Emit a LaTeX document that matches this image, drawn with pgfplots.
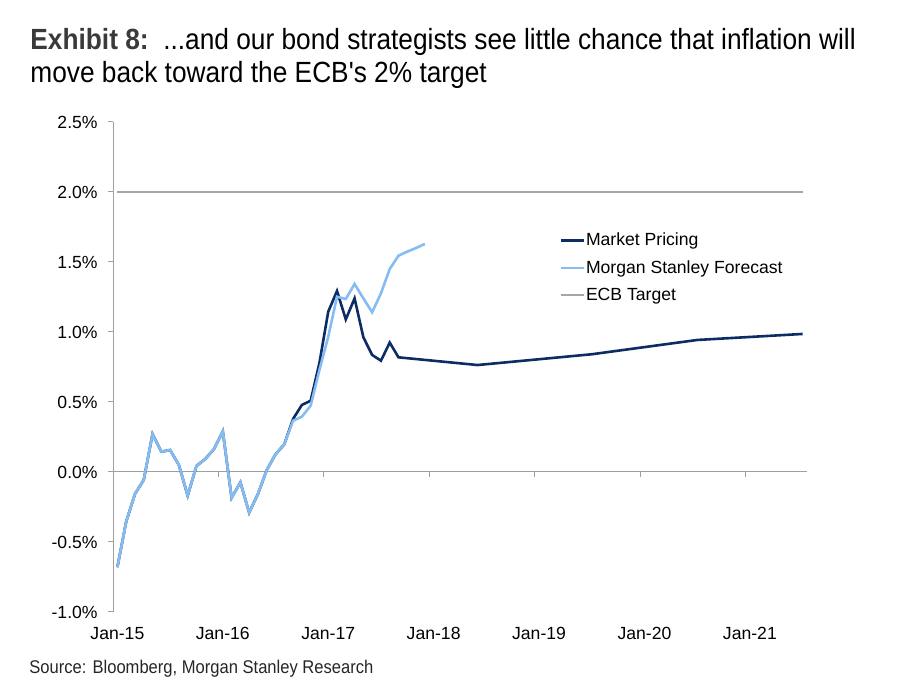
\documentclass[border=0pt]{standalone}
\usepackage{fontspec}
\setmainfont{Liberation Sans}
\newfontfamily\titlefont[FakeStretch=0.9]{Liberation Sans}
\usepackage{pgfplots}
\pgfplotsset{compat=1.18}

\definecolor{mpdark}{HTML}{0C2C64}
\definecolor{msblue}{HTML}{85BDF2}
\definecolor{ecbgray}{HTML}{A6A6A6}
\definecolor{axgray}{HTML}{A0A0A0}
\definecolor{titlegray}{HTML}{3A3A3A}

% month index: 0 = Jan-15
\pgfplotstableread{
x y
0 -0.68
1 -0.355
2 -0.157
3 -0.057
4 0.271
5 0.145
6 0.157
7 0.05
8 -0.169
9 0.043
10 0.093
11 0.164
12 0.29
13 -0.184
14 -0.074
15 -0.29
16 -0.157
17 0.014
18 0.126
19 0.198
20 0.379
21 0.479
22 0.509
23 0.78
24 1.145
25 1.293
26 1.09
27 1.24
28 0.962
29 0.836
30 0.795
31 0.924
32 0.819
41 0.764
54 0.841
66 0.943
78 0.986
}\market

\pgfplotstableread{
x y
0 -0.68
1 -0.355
2 -0.157
3 -0.057
4 0.271
5 0.145
6 0.157
7 0.05
8 -0.169
9 0.043
10 0.093
11 0.164
12 0.29
13 -0.184
14 -0.074
15 -0.29
16 -0.157
17 0.014
18 0.126
19 0.198
20 0.366
21 0.395
22 0.474
23 0.729
24 0.966
25 1.252
26 1.236
27 1.343
28 1.24
29 1.141
30 1.276
31 1.45
32 1.545
33 1.574
34 1.60
35 1.629
}\forecast

\begin{document}
\begin{tikzpicture}
\useasboundingbox (0,0) rectangle (453pt,348pt);
\node[anchor=base west, inner sep=0pt] at (15pt,323pt)
  {\titlefont\fontsize{14.6}{17}\selectfont\textcolor{titlegray}{\bfseries Exhibit 8:}\ \ ...and our bond strategists see little chance that inflation will};
\node[anchor=base west, inner sep=0pt] at (15pt,306.5pt)
  {\titlefont\fontsize{14.6}{17}\selectfont move back toward the ECB's 2\% target};
\node[anchor=base west, inner sep=0pt, text=black!85] at (14.5pt,11pt)
  {\titlefont\fontsize{9.2}{11}\selectfont Source: Bloomberg, Morgan Stanley Research};

\begin{axis}[
  at={(56.5pt,42pt)}, anchor=south west,
  scale only axis, width=347pt, height=245pt,
  xmin=-0.5, xmax=78.5, ymin=-1, ymax=2.5,
  axis y line=left, axis x line=bottom,
  x axis line style={draw=none},
  y axis line style={axgray, line width=0.5pt, -},
  tick align=outside,
  ytick={-1,-0.5,0,0.5,1,1.5,2,2.5},
  yticklabels={-1.0\%,-0.5\%,0.0\%,0.5\%,1.0\%,1.5\%,2.0\%,2.5\%},
  y tick style={axgray, line width=0.5pt},
  major tick length=2.5pt,
  xtick={0,12,24,36,48,60,72},
  xticklabels={Jan-15,Jan-16,Jan-17,Jan-18,Jan-19,Jan-20,Jan-21},
  x tick style={draw=none},
  tick label style={font=\fontsize{8.8}{10.5}\selectfont, text=black},
  yticklabel style={anchor=east, inner sep=0pt, xshift=-5pt},
  xticklabel style={anchor=north, inner sep=0pt, yshift=-5pt},
  clip=false,
  legend style={at={(0.634,0.785)}, anchor=north west, draw=none, fill=none,
    font=\fontsize{8.8}{10.5}\selectfont, row sep=4.9pt,
    nodes={inner sep=0.5pt}},
  legend cell align=left,
  legend image code/.code={\draw[#1] (0pt,0pt) -- (11.5pt,0pt);},
]
\draw[axgray, line width=0.5pt] (axis cs:-0.5,0) -- (axis cs:78.5,0);
\pgfplotsinvokeforeach{0,12,24,36,48,60,72}{
  \draw[axgray, line width=0.5pt] (axis cs:#1-0.5,0) -- ([yshift=-2.5pt]axis cs:#1-0.5,0);
}
\addplot[mpdark, line width=1.3pt] table[x=x, y=y] {\market};
\addlegendentry{Market Pricing}
\addplot[msblue, line width=1.3pt] table[x=x, y=y] {\forecast};
\addlegendentry{Morgan Stanley Forecast}
\addplot[ecbgray, line width=1pt] coordinates {(0,2) (78,2)};
\addlegendentry{ECB Target}
\end{axis}
\end{tikzpicture}
\end{document}
